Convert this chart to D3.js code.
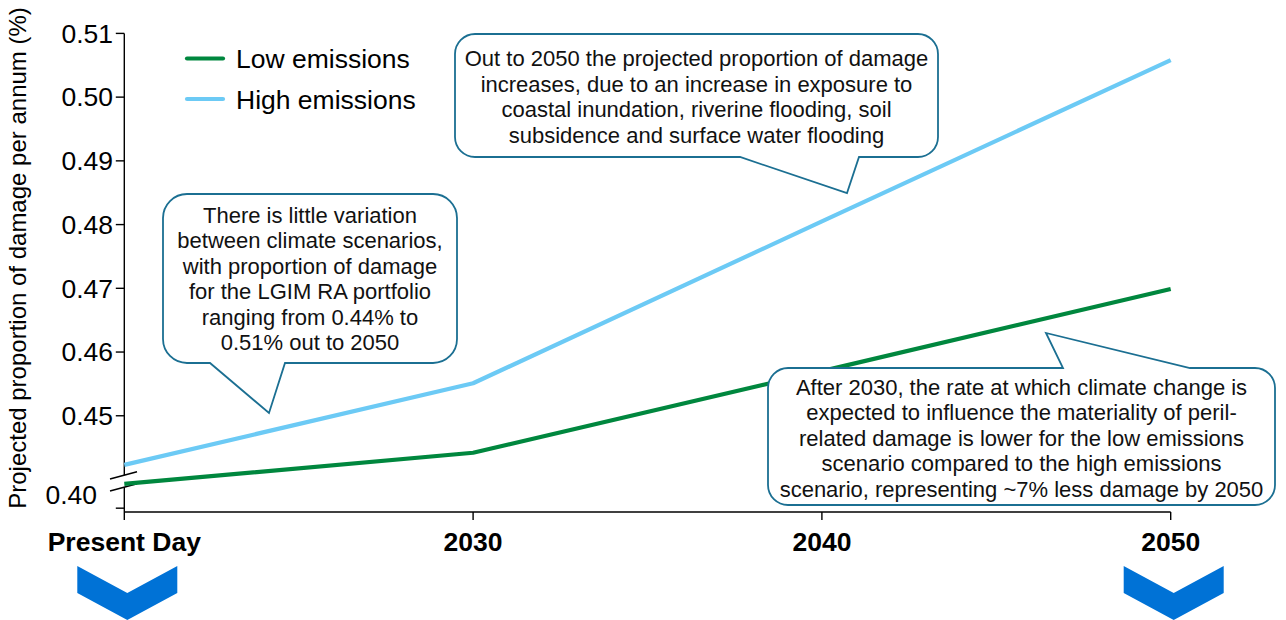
<!DOCTYPE html>
<html>
<head>
<meta charset="utf-8">
<script src="https://cdn.jsdelivr.net/npm/d3@7/dist/d3.min.js"></script>
<style>
  html, body { margin: 0; padding: 0; background: #ffffff; }
  svg { display: block; font-family: "Liberation Sans", Arial, sans-serif; }
</style>
</head>
<body>
<svg id="chart" width="1286" height="620"></svg>
<script>
// Projected proportion of damage per annum (%) by scenario
const categories = ["Present Day", "2030", "2040", "2050"];
const lowEmissions = [0.4393, 0.4442, 0.4570, 0.4699];
const highEmissions = [0.4423, 0.4551, 0.4805, 0.5058];
const seriesNames = ["Low emissions", "High emissions"];
const yTickValues = [0.45, 0.46, 0.47, 0.48, 0.49, 0.50, 0.51];
const yTickLabels = ["0.45", "0.46", "0.47", "0.48", "0.49", "0.50", "0.51"];
const yBaseTick = 0.4355;          // lowest tick, below the axis break
const yBreakLabel = "0.40";
const chevronCategories = ["Present Day", "2050"];

const callouts = [
  {
    lines: ["Out to 2050 the projected proportion of damage",
            "increases, due to an increase in exposure to",
            "coastal inundation, riverine flooding, soil",
            "subsidence and surface water flooding"],
    box: [455, 34, 938, 157], r: 20, side: "bottom",
    base: [740, 859], tip: [847, 193], firstBaseline: 66
  },
  {
    lines: ["There is little variation",
            "between climate scenarios,",
            "with proportion of damage",
            "for the LGIM RA portfolio",
            "ranging from 0.44% to",
            "0.51% out to 2050"],
    box: [163, 194, 457, 363], r: 24, side: "bottom",
    base: [210, 285], tip: [269, 413], firstBaseline: 222.5
  },
  {
    lines: ["After 2030, the rate at which climate change is",
            "expected to influence the materiality of peril-",
            "related damage is lower for the low emissions",
            "scenario compared to the high emissions",
            "scenario, representing ~7% less damage by 2050"],
    box: [768, 368, 1275, 505], r: 20, side: "top",
    base: [1063, 1190], tip: [1046, 333], firstBaseline: 394.5
  }
];

const colors = { low: "#00873e", high: "#6ccaf5", callout: "#1b6f92", chevron: "#0072d6" };

const svg = d3.select("#chart");

const x = d3.scalePoint().domain(categories).range([124.3, 1170.7]);
const y = d3.scaleLinear().domain([0.4349, 0.51]).range([512, 33.4]);

// Axes
const axisG = svg.append("g").attr("stroke", "#000").attr("stroke-width", 1.4);
axisG.append("line").attr("x1", x.range()[0]).attr("x2", x.range()[0])
  .attr("y1", y(0.51)).attr("y2", y.range()[0]);
axisG.append("line").attr("x1", x.range()[0]).attr("x2", x.range()[1])
  .attr("y1", y.range()[0]).attr("y2", y.range()[0]);

// y ticks
axisG.selectAll("line.yt").data(yTickValues.concat([yBaseTick])).join("line")
  .attr("class", "yt")
  .attr("x1", x.range()[0] - 8.5).attr("x2", x.range()[0])
  .attr("y1", d => y(d)).attr("y2", d => y(d));

// x ticks
axisG.selectAll("line.xt").data(categories).join("line")
  .attr("class", "xt")
  .attr("x1", d => x(d)).attr("x2", d => x(d))
  .attr("y1", y.range()[0]).attr("y2", y.range()[0] + 8);

// y tick labels
svg.append("g").selectAll("text").data(yTickValues).join("text")
  .attr("x", 113).attr("y", d => y(d))
  .attr("dy", "0.35em")
  .attr("text-anchor", "end")
  .attr("font-size", 26.5)
  .attr("fill", "#000")
  .text((d, i) => yTickLabels[i]);

svg.append("text")
  .attr("x", 97).attr("y", 495).attr("dy", "0.35em")
  .attr("text-anchor", "end").attr("font-size", 26.5).attr("fill", "#000")
  .text(yBreakLabel);

// Axis break marks
const bx0 = 110, bx1 = 137;
svg.append("path")
  .attr("d", `M${bx0},479 L${bx1},471.7 L${bx1},483.7 L${bx0},491 Z`)
  .attr("fill", "#fff");
svg.append("g").attr("stroke", "#000").attr("stroke-width", 1.5)
  .selectAll("line").data([[479, 471.7], [491, 483.7]]).join("line")
  .attr("x1", bx0).attr("x2", bx1)
  .attr("y1", d => d[0]).attr("y2", d => d[1]);

// x labels
svg.append("g").selectAll("text").data(categories).join("text")
  .attr("x", d => x(d)).attr("y", 551)
  .attr("text-anchor", "middle")
  .attr("font-size", 26.5).attr("font-weight", "bold").attr("fill", "#000")
  .text(d => d);

// y axis title
svg.append("text")
  .attr("transform", "translate(26,258) rotate(-90)")
  .attr("text-anchor", "middle").attr("font-size", 24).attr("fill", "#000")
  .text("Projected proportion of damage per annum (%)");

// Series lines
const line = d3.line().x(d => x(d.cat)).y(d => y(d.v));
const series = [
  { name: seriesNames[0], values: lowEmissions, color: colors.low },
  { name: seriesNames[1], values: highEmissions, color: colors.high }
];
svg.append("g").selectAll("path").data(series).join("path")
  .attr("d", s => line(s.values.map((v, i) => ({ cat: categories[i], v }))))
  .attr("fill", "none")
  .attr("stroke", s => s.color)
  .attr("stroke-width", 4.2)
  .attr("stroke-linejoin", "round");

// Legend
const legend = svg.append("g");
const legendRows = [58.5, 99];
series.forEach((s, i) => {
  legend.append("line")
    .attr("x1", 187).attr("x2", 223)
    .attr("y1", legendRows[i]).attr("y2", legendRows[i])
    .attr("stroke", s.color).attr("stroke-width", 4.2).attr("stroke-linecap", "round");
  legend.append("text")
    .attr("x", 236).attr("y", legendRows[i]).attr("dy", "0.36em")
    .attr("font-size", 26.5).attr("fill", "#000")
    .text(s.name);
});

// Callout bubbles
function calloutPath(c) {
  const [x0, y0, x1, y1] = c.box, r = c.r;
  const [b1, b2] = c.base, [tx, ty] = c.tip;
  let p = `M${x0 + r},${y0}`;
  if (c.side === "top") p += ` H${b1} L${tx},${ty} L${b2},${y0}`;
  p += ` H${x1 - r} A${r},${r} 0 0 1 ${x1},${y0 + r}`;
  p += ` V${y1 - r} A${r},${r} 0 0 1 ${x1 - r},${y1}`;
  if (c.side === "bottom") p += ` H${b2} L${tx},${ty} L${b1},${y1}`;
  p += ` H${x0 + r} A${r},${r} 0 0 1 ${x0},${y1 - r}`;
  p += ` V${y0 + r} A${r},${r} 0 0 1 ${x0 + r},${y0} Z`;
  return p;
}

const cg = svg.append("g").selectAll("g").data(callouts).join("g");
cg.append("path")
  .attr("d", calloutPath)
  .attr("fill", "#fff")
  .attr("stroke", colors.callout)
  .attr("stroke-width", 1.8)
  .attr("stroke-linejoin", "miter");
cg.each(function (c) {
  const cx = (c.box[0] + c.box[2]) / 2;
  d3.select(this).selectAll("text").data(c.lines).join("text")
    .attr("x", cx)
    .attr("y", (d, i) => c.firstBaseline + i * 25.5)
    .attr("text-anchor", "middle")
    .attr("font-size", 22)
    .attr("fill", "#111")
    .text(d => d);
});

// Chevrons under the first and last periods
svg.append("g").selectAll("path").data(chevronCategories).join("path")
  .attr("d", d => {
    const cx = x(d) + 3, w = 50;
    return `M${cx - w},566 L${cx},593 L${cx + w},566 L${cx + w},593 L${cx},620 L${cx - w},593 Z`;
  })
  .attr("fill", colors.chevron);
</script>
</body>
</html>
